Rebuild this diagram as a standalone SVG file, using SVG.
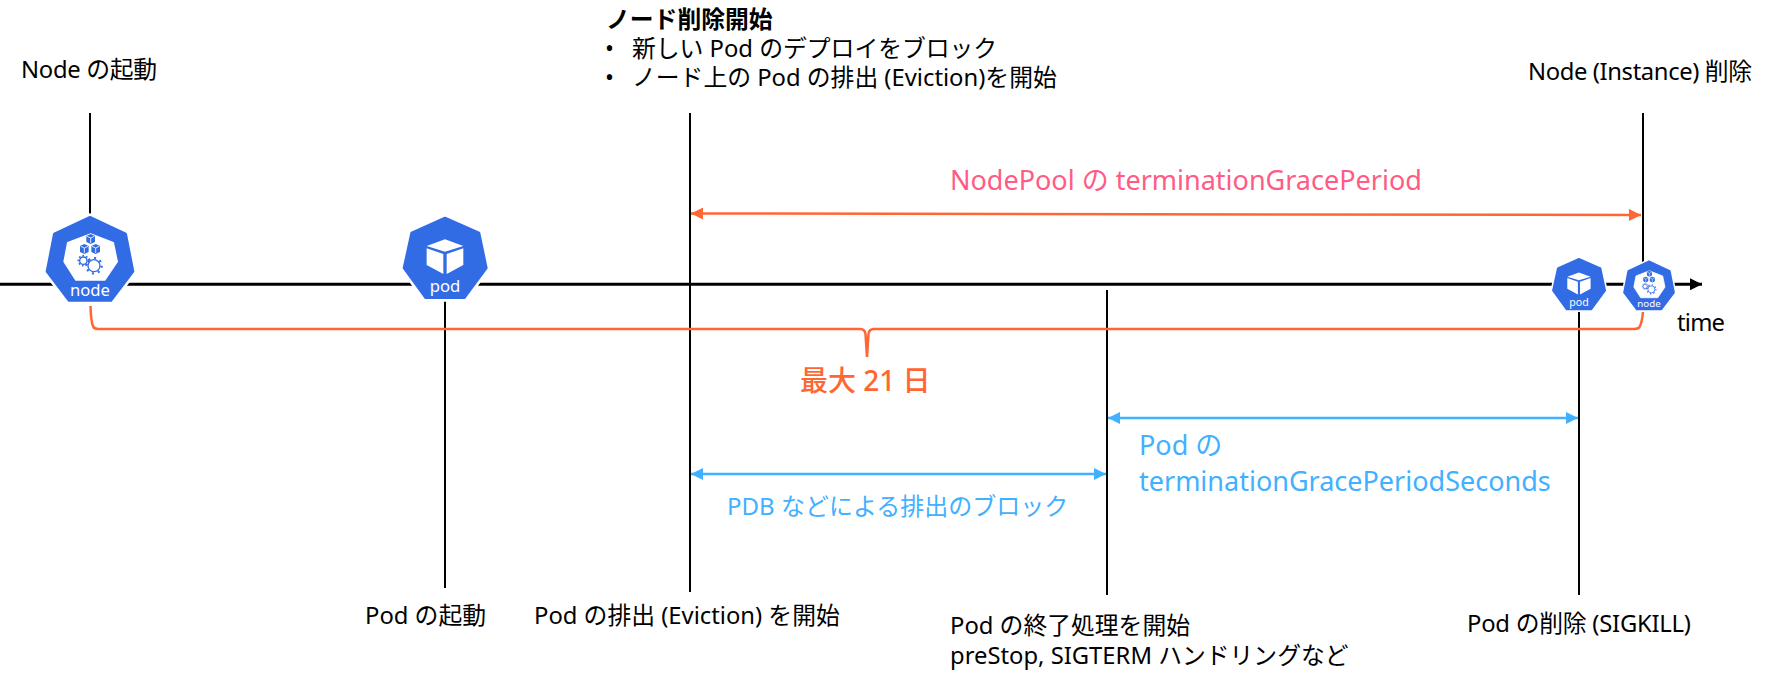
<svg xmlns="http://www.w3.org/2000/svg" xmlns:xlink="http://www.w3.org/1999/xlink" width="1770" height="688" viewBox="0 0 1770 688">
<style>
text{font-family:"Noto Sans","Noto Sans CJK JP",sans-serif;font-size:23.8px;fill:#000}
.b{font-weight:700}
.np{fill:#ff5c85;font-size:27px}
.or{fill:#ff6633;font-size:28px;font-weight:500}
.bl{fill:#40b0ff;font-size:24px}
.bl2{fill:#40b0ff;font-size:27px}
.ic{fill:#fff;font-size:50px;text-anchor:middle}
.v{stroke:#000;stroke-width:2;fill:none}
.ax{stroke:#000;stroke-width:3;fill:none;marker-end:url(#ah)}
.o{stroke:#ff6633;stroke-width:2.5;fill:none}
.oa{stroke:#ff6633;stroke-width:2.5;fill:none;marker-start:url(#ohs);marker-end:url(#ohe)}
.ba{stroke:#40b0ff;stroke-width:2.5;fill:none;marker-start:url(#bhs);marker-end:url(#bhe)}
</style>
<defs>
<marker id="ah" markerUnits="userSpaceOnUse" markerWidth="13" markerHeight="12" refX="12" refY="6" orient="auto"><path d="M0 0L12 6L0 12Z" fill="#000"/></marker>
<marker id="ohe" markerUnits="userSpaceOnUse" markerWidth="12" markerHeight="12" refX="12" refY="6" orient="auto"><path d="M0 0L12 6L0 12Z" fill="#ff6633"/></marker>
<marker id="ohs" markerUnits="userSpaceOnUse" markerWidth="12" markerHeight="12" refX="0" refY="6" orient="auto"><path d="M12 0L0 6L12 12Z" fill="#ff6633"/></marker>
<marker id="bhe" markerUnits="userSpaceOnUse" markerWidth="12" markerHeight="12" refX="12" refY="6" orient="auto"><path d="M0 0L12 6L0 12Z" fill="#40b0ff"/></marker>
<marker id="bhs" markerUnits="userSpaceOnUse" markerWidth="12" markerHeight="12" refX="0" refY="6" orient="auto"><path d="M12 0L0 6L12 12Z" fill="#40b0ff"/></marker>
<g id="cube"><path d="M0-15L13-9V9L0 15L-13 9V-9Z" fill="#326ce5"/><path d="M-11-8L0-3L11-8M0-3V12" fill="none" stroke="#fff" stroke-width="2.5"/></g>
<g id="nodeIcon">
<path d="M180 48L290 100L313 215L245 305H115L47 215L70 100Z" fill="#fff" stroke="#fff" stroke-width="16" stroke-linejoin="round"/>
<path d="M180 52L287 102L309 214L243 301H117L51 214L73 102Z" fill="#326ce5" stroke="#326ce5" stroke-width="8" stroke-linejoin="round"/>
<path d="M182 102L250 128L262 185L225 240H137L102 185L113 128Z" fill="#fff" stroke="#fff" stroke-width="4" stroke-linejoin="round"/>
<use xlink:href="#cube" href="#cube" x="182" y="117"/>
<use xlink:href="#cube" href="#cube" x="163" y="147"/>
<use xlink:href="#cube" href="#cube" x="197" y="147"/>
<circle cx="160" cy="182" r="11" fill="#fff" stroke="#326ce5" stroke-width="4"/>
<circle cx="160" cy="182" r="15" fill="none" stroke="#326ce5" stroke-width="5" stroke-dasharray="5 6"/>
<circle cx="192" cy="197" r="18" fill="#fff" stroke="#326ce5" stroke-width="4"/>
<circle cx="192" cy="197" r="23" fill="none" stroke="#326ce5" stroke-width="7" stroke-dasharray="6 12"/>
<text class="ic" x="180" y="287">node</text>
</g>
<g id="podIcon">
<path d="M165 50L270 97L293 205L225 297H105L38 205L62 97Z" fill="#fff" stroke="#fff" stroke-width="16" stroke-linejoin="round"/>
<path d="M165 54L267 99L289 204L223 293H107L42 204L65 99Z" fill="#326ce5" stroke="#326ce5" stroke-width="8" stroke-linejoin="round"/>
<path d="M110 138L165 118L220 138L165 155ZM110 145L160 162V222L110 195ZM170 162L220 145V195L170 222Z" fill="#fff"/>
<text class="ic" x="165" y="277">pod</text>
</g>
</defs>
<g id="connectors">
<path class="v" d="M90 113V214"/>
<path class="v" d="M690 113V592"/>
<path class="v" d="M1643 113V262"/>
<path class="v" d="M445 300V588"/>
<path class="v" d="M1107 290V595"/>
<path class="v" d="M1579 310V595"/>
<path class="ax" d="M0 284.3H1702"/>
<path class="oa" d="M691 213.5L1641 215"/>
<path class="ba" d="M691 474H1106"/>
<path class="ba" d="M1108 418H1578"/>
<path class="o" d="M90.5 306Q91 322 93 326Q94 329 98 329H860Q865 329 865.5 334L867 357L868.5 334Q869 329 874 329H1634Q1639 329 1640 326Q1642 322 1643 312"/>
</g>
<g id="node-start"><use xlink:href="#nodeIcon" href="#nodeIcon" transform="translate(30 200) scale(.3333)"/><text x="21" y="78" textLength="136">Node の起動</text></g>
<g id="pod-start"><use xlink:href="#podIcon" href="#podIcon" transform="translate(390 200) scale(.3333)"/><text x="365" y="624">Pod の起動</text></g>
<g id="node-drain">
<text class="b" x="606" y="28">ノード削除開始</text>
<text x="605" y="57">•</text><text x="632" y="57">新しい Pod のデプロイをブロック</text>
<text x="605" y="86">•</text><text x="632" y="86">ノード上の Pod の排出 (Eviction)を開始</text>
</g>
<g id="eviction"><text x="534" y="624">Pod の排出 (Eviction) を開始</text></g>
<g id="termination-start"><text x="950" y="634">Pod の終了処理を開始</text><text x="950" y="664">preStop, SIGTERM ハンドリングなど</text></g>
<g id="pod-end"><use xlink:href="#podIcon" href="#podIcon" transform="translate(1544 247.4) scale(.2118)"/><text x="1467" y="632" textLength="224">Pod の削除 (SIGKILL)</text></g>
<g id="node-end"><use xlink:href="#nodeIcon" href="#nodeIcon" transform="translate(1614 251) scale(.1946)"/><text x="1528" y="80" textLength="224">Node (Instance) 削除</text></g>
<g id="labels">
<text x="1677" y="331" textLength="48">time</text>
<text class="np" x="950" y="190">NodePool の terminationGracePeriod</text>
<text class="or" x="800" y="391">最大 21 日</text>
<text class="bl" x="727" y="515">PDB などによる排出のブロック</text>
<text class="bl2" x="1139" y="455">Pod の</text>
<text class="bl2" x="1139" y="491">terminationGracePeriodSeconds</text>
</g>
</svg>
